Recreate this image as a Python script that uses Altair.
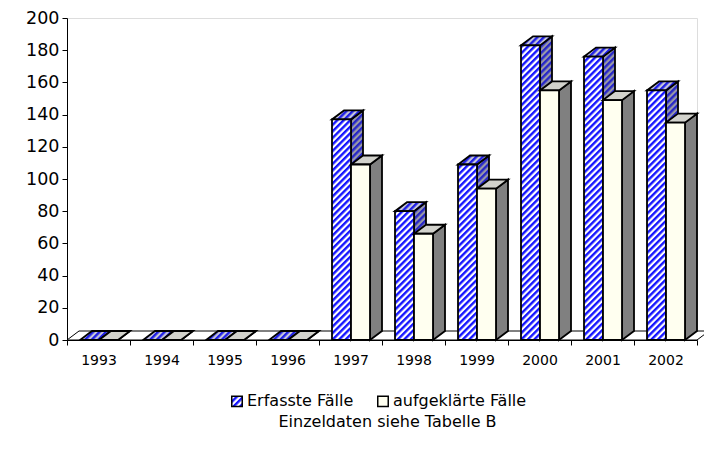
import altair as alt
import pandas as pd
import jinja2

# Fallzahlen je Jahr
years = ["1993", "1994", "1995", "1996", "1997", "1998", "1999", "2000", "2001", "2002"]
erfasst = [0, 0, 0, 0, 137, 80, 109, 183, 176, 155]
aufgeklaert = [0, 0, 0, 0, 109, 66, 94, 155, 149, 135]
series_names = ["Erfasste Fälle", "aufgeklärte Fälle"]
footnote = "Einzeldaten siehe Tabelle B"

FONT = "DejaVu Sans"

# Geometrie der Pseudo-3D-Säulen (Pixel)
PLOT_W, PLOT_H = 630, 322
Y_MAX = 200
N = len(years)
BAND = PLOT_W / N
INSET = 13      # Abstand der ersten Säule vom Kategorienanfang
BAR_W = 19      # Breite einer Säulenfront
DEPTH_X = 12    # Tiefe nach rechts
DEPTH_Y = 9     # Tiefe nach oben

dx = DEPTH_X / BAND           # in Kategorie-Einheiten
dy = DEPTH_Y * Y_MAX / PLOT_H  # in Werte-Einheiten

front_rows, top_rows, side_rows = [], [], []
for s, (name, vals) in enumerate(zip(series_names, [erfasst, aufgeklaert])):
    for i, (yr, v) in enumerate(zip(years, vals)):
        x0 = i + (INSET + s * BAR_W) / BAND
        x1 = x0 + BAR_W / BAND
        fid = f"{s}-{yr}"
        front_rows.append(dict(series=name, s=s, year=yr, x0=x0, x1=x1, lo=0, v=v))
        for x, lo, hi in [(x0, v, v), (x0 + dx, v, v + dy), (x1, v, v + dy), (x1 + dx, v + dy, v + dy)]:
            top_rows.append(dict(series=name, s=s, face=fid, x=x, lo=lo, hi=hi))
        for x, lo, hi in [(x1, 0, v), (x1 + dx, dy, v + dy)]:
            side_rows.append(dict(series=name, s=s, face=fid, x=x, lo=lo, hi=hi))

front = pd.DataFrame(front_rows)
tops = pd.DataFrame(top_rows)
sides = pd.DataFrame(side_rows)
floor = pd.DataFrame(dict(
    face=["floor"] * 4,
    x=[0, dx, N, N + dx],
    lo=[0, 0, 0, dy],
    hi=[0, dy, dy, dy],
))

yscale = alt.Scale(domain=[0, Y_MAX], nice=False, zero=True)
xq = alt.Scale(domain=[0, N], nice=False, zero=False)
yaxis = alt.Axis(
    title=None, grid=False, values=list(range(0, Y_MAX + 1, 20)),
    labelFontSize=17.5, labelFont=FONT, labelColor="black",
    tickSize=5, tickColor="black", domainColor="black", labelPadding=3,
)

STROKE = dict(stroke="black", strokeWidth=1.8, strokeJoin="miter")


def area_layer(df, fill, width=1.8):
    return alt.Chart(df).mark_area(
        orient="vertical", fill=fill, stroke="black", strokeWidth=width, strokeJoin="miter"
    ).encode(
        x=alt.X("x:Q", scale=xq, axis=None),
        y=alt.Y("lo:Q", scale=yscale, stack=None, axis=yaxis),
        y2="hi:Q",
        detail="face:N",
    )


def front_layer(df):
    return alt.Chart(df).mark_rect(**STROKE).encode(
        x=alt.X("x0:Q", scale=xq, axis=None),
        x2="x1:Q",
        y=alt.Y("lo:Q", scale=yscale, axis=yaxis),
        y2="v:Q",
        color=alt.Color(
            "series:N",
            scale=alt.Scale(domain=series_names, range=["url(#hatchFront)", "#fffff0"]),
            legend=alt.Legend(
                title=None, orient="none", direction="horizontal",
                legendX=162, legendY=375,
                symbolType="square", symbolSize=110,
                symbolStrokeColor="black", symbolStrokeWidth=1.5,
                labelFontSize=16, labelFont=FONT, labelColor="black",
                columnPadding=20, symbolOffset=0, labelOffset=2,
            ),
        ),
    )


# Kategorienachse (unsichtbare Bänder)
axis_layer = alt.Chart(pd.DataFrame(dict(year=years))).mark_rect(opacity=0).encode(
    x=alt.X(
        "year:N", sort=years,
        scale=alt.Scale(paddingInner=0, paddingOuter=0),
        axis=alt.Axis(
            title=footnote, labelAngle=0, labelFontSize=14, labelFont=FONT,
            labelColor="black", tickBand="extent", tickSize=5, tickColor="black",
            domainColor="black", labelPadding=8,
            titleFontSize=16, titleFont=FONT, titleFontWeight="normal",
            titleColor="black", titlePadding=46, titleX=320,
        ),
    ),
)

blue, white = series_names
layers = [
    axis_layer,
    area_layer(floor, "white", 1),
    area_layer(sides[sides.series == blue], "url(#hatchSide)"),
    area_layer(tops[tops.series == blue], "url(#hatchTop)"),
    front_layer(front[front.series == blue]),
    area_layer(sides[sides.series == white], "#808080"),
    area_layer(tops[tops.series == white], "#d2d2cc"),
    front_layer(front[front.series == white]),
]

chart = alt.layer(*layers).resolve_scale(x="independent").properties(
    width=PLOT_W, height=PLOT_H,
    autosize=alt.AutoSizeParams(type="none"),
    padding={"left": 67, "top": 18, "right": 7, "bottom": 117},
).configure_view(stroke=None).configure(background="white")

# Seite mit SVG-Schraffurmustern für die Säulenflächen
page = jinja2.Template("""<!DOCTYPE html>
<html>
<head>
<meta charset="utf-8">
<style>body { margin: 0; }</style>
<script type="text/javascript" src="{{ base_url }}/vega@{{ vega_version }}"></script>
<script type="text/javascript" src="{{ base_url }}/vega-lite@{{ vegalite_version }}"></script>
<script type="text/javascript" src="{{ base_url }}/vega-embed@{{ vegaembed_version }}"></script>
</head>
<body>
<svg width="0" height="0" style="position:absolute">
  <defs>
    <pattern id="hatchFront" patternUnits="userSpaceOnUse" width="4.6" height="4.6" patternTransform="rotate(45)">
      <rect width="4.6" height="4.6" fill="#ffffff"/>
      <rect width="2.4" height="4.6" fill="#1414ff"/>
    </pattern>
    <pattern id="hatchSide" patternUnits="userSpaceOnUse" width="4.6" height="4.6" patternTransform="rotate(45)">
      <rect width="4.6" height="4.6" fill="#9a9aa6"/>
      <rect width="2.4" height="4.6" fill="#2626c8"/>
    </pattern>
    <pattern id="hatchTop" patternUnits="userSpaceOnUse" width="4.6" height="4.6" patternTransform="rotate(45)">
      <rect width="4.6" height="4.6" fill="#c8c8d8"/>
      <rect width="2.4" height="4.6" fill="#1e1ee6"/>
    </pattern>
  </defs>
</svg>
<div id="{{ output_div }}"></div>
<script type="text/javascript">
  vegaEmbed("#{{ output_div }}", {{ spec }}, {{ embed_options }}).catch(console.error);
</script>
</body>
</html>
""")

chart.save("out.html", embed_options={"renderer": "svg", "actions": False}, template=page)
